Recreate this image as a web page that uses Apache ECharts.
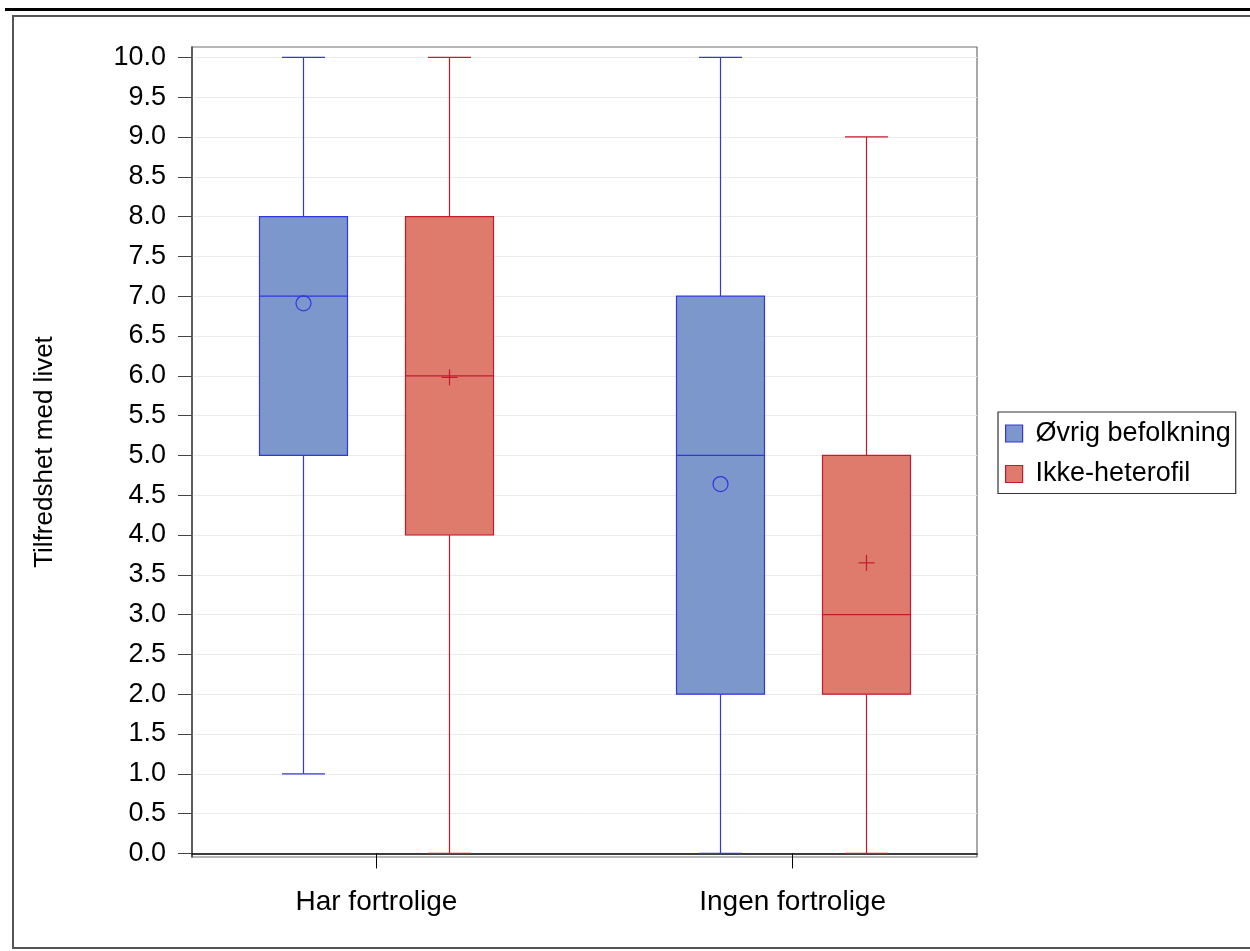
<!DOCTYPE html>
<html>
<head>
<meta charset="utf-8">
<script src="https://cdn.jsdelivr.net/npm/echarts@6/dist/echarts.min.js"></script>
<style>
html,body{margin:0;padding:0;background:#fff;}
#chart{width:1250px;height:951px;}
</style>
</head>
<body>
<div id="chart"></div>
<script>
// ---- data ----
const categories = ['Har fortrolige', 'Ingen fortrolige'];
const seriesNames = ['Øvrig befolkning', 'Ikke-heterofil'];
// [min, Q1, median, Q3, max] per category
const ovrigStats = [[1, 5, 7, 8, 10], [0, 2, 5, 7, 10]];
const ovrigMean = [6.91, 4.64];
const ikkeStats = [[0, 4, 6, 8, 10], [0, 2, 3, 5, 9]];
const ikkeMean = [5.98, 3.65];
const yTickValues = [0, 0.5, 1, 1.5, 2, 2.5, 3, 3.5, 4, 4.5, 5, 5.5, 6, 6.5, 7, 7.5, 8, 8.5, 9, 9.5, 10];

// ---- styles ----
const fills = ['#7c97cb', '#de7b6d'];
const lines = ['#3434e0', '#c8182e'];
const offsets = [-0.1754, 0.1754];
const boxW = 0.2114;
const capW = 0.103;
const FONT = 'Liberation Sans, Arial, sans-serif';

function buildData(stats, means) {
  return stats.map((s, i) => [i + 1, s[0], s[1], s[2], s[3], s[4], means[i]]);
}

function makeRender(si) {
  return function (params, api) {
    const xc = api.value(0) + offsets[si];
    const vmin = api.value(1), q1 = api.value(2), med = api.value(3), q3 = api.value(4), vmax = api.value(5), mean = api.value(6);
    const pC = api.coord([xc, med]);
    const cx = Math.round(pC[0]) + 0.5;
    const halfBox = api.size([boxW, 0])[0] / 2;
    const halfCap = api.size([capW, 0])[0] / 2;
    const yMin = api.coord([xc, vmin])[1];
    const yQ1 = api.coord([xc, q1])[1];
    const yMed = pC[1];
    const yQ3 = api.coord([xc, q3])[1];
    const yMax = api.coord([xc, vmax])[1];
    const yMean = api.coord([xc, mean])[1];
    const ls = { stroke: lines[si], lineWidth: 1.2, fill: null };
    const children = [
      { type: 'line', shape: { x1: cx, y1: yQ3, x2: cx, y2: yMax }, style: ls },
      { type: 'line', shape: { x1: cx, y1: yQ1, x2: cx, y2: yMin }, style: ls },
      { type: 'line', shape: { x1: cx - halfCap, y1: yMax, x2: cx + halfCap, y2: yMax }, style: ls },
      { type: 'line', shape: { x1: cx - halfCap, y1: yMin, x2: cx + halfCap, y2: yMin }, style: ls },
      { type: 'rect', shape: { x: cx - halfBox, y: yQ3, width: halfBox * 2, height: yQ1 - yQ3 },
        style: { fill: fills[si], stroke: lines[si], lineWidth: 1.2 } },
      { type: 'line', shape: { x1: cx - halfBox, y1: yMed, x2: cx + halfBox, y2: yMed }, style: ls }
    ];
    if (si === 0) {
      children.push({ type: 'circle', shape: { cx: cx, cy: yMean, r: 7.5 }, style: { fill: null, stroke: lines[si], lineWidth: 1.2 } });
    } else {
      children.push({ type: 'line', shape: { x1: cx - 8, y1: yMean, x2: cx + 8, y2: yMean }, style: ls });
      children.push({ type: 'line', shape: { x1: cx, y1: yMean - 8, x2: cx, y2: yMean + 8 }, style: ls });
    }
    return { type: 'group', children: children };
  };
}

const chart = echarts.init(document.getElementById('chart'), null, { renderer: 'canvas' });
chart.setOption({
  animation: false,
  backgroundColor: '#fff',
  textStyle: { fontFamily: FONT, color: '#000' },
  grid: { left: 192, right: 273, top: 47, bottom: 94, show: true, borderColor: '#707070', borderWidth: 1.2, containLabel: false },
  xAxis: {
    type: 'value', min: 0.557, max: 2.443,
    axisLine: { show: true, lineStyle: { color: '#000', width: 1.5 } },
    axisTick: { show: true, length: 15, customValues: [1, 2], lineStyle: { color: '#000', width: 1 } },
    axisLabel: { customValues: [1, 2], margin: 31, fontSize: 28, color: '#000', fontFamily: FONT,
      formatter: v => categories[Math.round(v) - 1] || '' },
    splitLine: { show: false }
  },
  yAxis: {
    type: 'value', min: -0.045, max: 10.13,
    name: 'Tilfredshet med livet', nameLocation: 'middle', nameRotate: 90, nameGap: 134,
    nameTextStyle: { fontSize: 26, color: '#000', fontFamily: FONT },
    axisLine: { show: true, lineStyle: { color: '#444', width: 1.5 } },
    axisTick: { show: true, length: 14, customValues: yTickValues, lineStyle: { color: '#444', width: 1 } },
    axisLabel: { customValues: yTickValues, margin: 26, fontSize: 27, color: '#000', fontFamily: FONT,
      formatter: v => v.toFixed(1) },
    splitLine: { show: true, lineStyle: { color: '#ebebeb', width: 1 } }
  },
  legend: {
    orient: 'vertical', left: 998, top: 412,
    padding: [8, 5, 6, 7], itemGap: 13.5, itemWidth: 17, itemHeight: 17,
    borderColor: '#333', borderWidth: 1.2,
    textStyle: { fontSize: 27, lineHeight: 26, color: '#000', fontFamily: FONT, padding: [0, 0, 0, 8] },
    data: [
      { name: seriesNames[0], icon: 'rect', itemStyle: { color: fills[0], borderColor: lines[0], borderWidth: 1.2 } },
      { name: seriesNames[1], icon: 'rect', itemStyle: { color: fills[1], borderColor: lines[1], borderWidth: 1.2 } }
    ]
  },
  graphic: [
    { type: 'line', shape: { x1: 5, y1: 9.5, x2: 1250, y2: 9.5 }, style: { stroke: '#000', lineWidth: 3 } },
    { type: 'rect', shape: { x: 13, y: 16, width: 1250, height: 932 }, style: { fill: null, stroke: '#555', lineWidth: 2 } }
  ],
  series: [
    { name: seriesNames[0], type: 'custom', renderItem: makeRender(0), data: buildData(ovrigStats, ovrigMean),
      itemStyle: { color: fills[0], borderColor: lines[0] }, encode: { x: 0, y: [1, 2, 3, 4, 5, 6] } },
    { name: seriesNames[1], type: 'custom', renderItem: makeRender(1), data: buildData(ikkeStats, ikkeMean),
      itemStyle: { color: fills[1], borderColor: lines[1] }, encode: { x: 0, y: [1, 2, 3, 4, 5, 6] } }
  ]
});
</script>
</body>
</html>
